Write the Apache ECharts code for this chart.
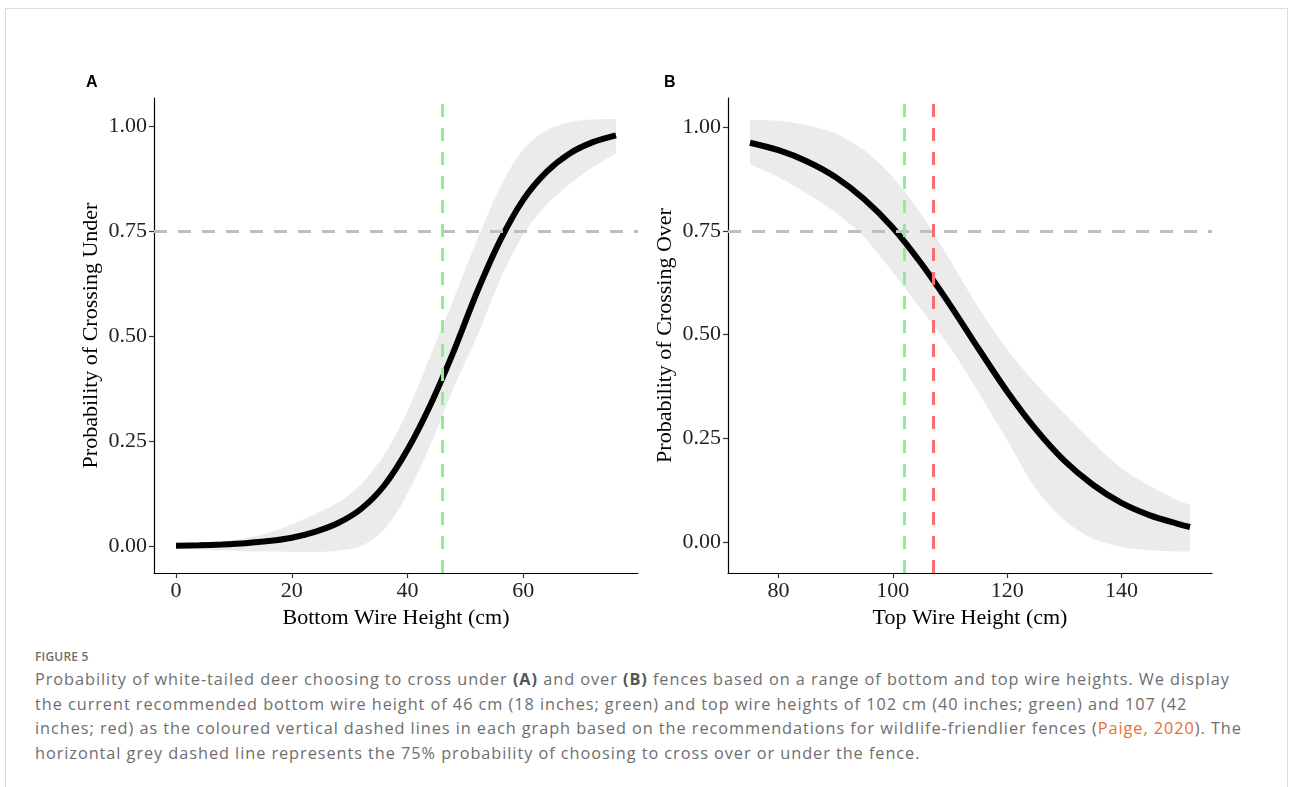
<!DOCTYPE html>
<html>
<head>
<meta charset="utf-8">
<script src="https://cdn.jsdelivr.net/npm/echarts@6/dist/echarts.min.js"></script>
<style>
  body { margin: 0; background: #fff; overflow: hidden; }
  #frame { position: absolute; left: 5px; top: 8px; width: 1281px; height: 800px; border: 1px solid #dcdcdc; }
  #chart { position: absolute; left: 0; top: 0; width: 1292px; height: 640px; }
  #caption { position: absolute; left: 35px; top: 648px; font-family: "Open Sans", sans-serif; color: #6e6e6e; white-space: nowrap; }
  #caption .fig { font-size: 12px; font-weight: 600; letter-spacing: 0.2px; line-height: 18px; }
  #caption .txt { font-size: 16.3px; line-height: 24.5px; letter-spacing: 0.95px; margin-top: 1px; }
  #caption b { color: #555; }
  #caption .ref { color: #e8702a; }
</style>
</head>
<body>
<div id="frame"></div>
<div id="chart"></div>
<div id="caption">
  <div class="fig">FIGURE 5</div>
  <div class="txt">
    Probability of white-tailed deer choosing to cross under <b>(A)</b> and over <b>(B)</b> fences based on a range of bottom and top wire heights. We display<br>
    the current recommended bottom wire height of 46 cm (18 inches; green) and top wire heights of 102 cm (40 inches; green) and 107 (42<br>
    inches; red) as the coloured vertical dashed lines in each graph based on the recommendations for wildlife-friendlier fences (<span class="ref">Paige, 2020</span>). The<br>
    horizontal grey dashed line represents the 75% probability of choosing to cross over or under the fence.
  </div>
</div>
<script>
// panel A: bottom wire height (cm)
const bottomHeight = [0, 4, 8, 12, 16, 20, 24, 28, 32, 36, 40, 44, 48, 52, 56, 60, 64, 68, 72, 76];
const underProb = [0.001, 0.002, 0.004, 0.007, 0.012, 0.020, 0.034, 0.055, 0.089, 0.145, 0.230, 0.338, 0.465, 0.605, 0.728, 0.825, 0.891, 0.935, 0.962, 0.978];
const underLow = [-0.005, -0.008, -0.010, -0.012, -0.013, -0.014, -0.014, -0.011, 0.000, 0.040, 0.125, 0.243, 0.378, 0.500, 0.635, 0.742, 0.812, 0.862, 0.902, 0.935];
const underHigh = [0.005, 0.008, 0.012, 0.019, 0.032, 0.052, 0.076, 0.103, 0.148, 0.218, 0.322, 0.455, 0.590, 0.728, 0.855, 0.945, 0.990, 1.010, 1.016, 1.017];

// panel B: top wire height (cm)
const topHeight = [75, 80, 85, 90, 95, 100, 105, 110, 115, 120, 125, 130, 135, 140, 145, 150, 152];
const overProb = [0.963, 0.945, 0.918, 0.880, 0.827, 0.758, 0.671, 0.572, 0.466, 0.363, 0.272, 0.196, 0.138, 0.094, 0.064, 0.043, 0.036];
const overLow = [0.912, 0.880, 0.840, 0.795, 0.735, 0.650, 0.560, 0.470, 0.360, 0.245, 0.128, 0.052, 0.008, -0.012, -0.020, -0.023, -0.023];
const overHigh = [1.018, 1.016, 1.005, 0.985, 0.945, 0.880, 0.790, 0.680, 0.565, 0.465, 0.382, 0.310, 0.240, 0.178, 0.135, 0.100, 0.089];

const ticksA = [0, 20, 40, 60];
const ticksB = [80, 100, 120, 140];
const ticksY = [0, 0.25, 0.5, 0.75, 1];

const refBottom = 46;      // green
const refTopGreen = 102;
const refTopRed = 107;
const threshold = 0.75;

const serif = 'Liberation Serif';

function pairs(xs, ys) { return xs.map((x, i) => [x, ys[i]]); }

function xAxisFor(idx, min, max, ticks, name) {
  return {
    type: 'value', gridIndex: idx, min: min, max: max,
    name: name, nameLocation: 'middle', nameGap: 28,
    nameTextStyle: { fontFamily: serif, fontSize: 22, color: '#000' },
    axisLine: { onZero: false, lineStyle: { color: '#000', width: 1.2 } },
    axisTick: { customValues: ticks, length: 5, lineStyle: { color: '#333', width: 1.2 } },
    axisLabel: { customValues: ticks, margin: 7, fontFamily: serif, fontSize: 22, color: '#222' },
    splitLine: { show: false }
  };
}
function yAxisFor(idx, min, max, name) {
  return {
    type: 'value', gridIndex: idx, min: min, max: max,
    name: name, nameLocation: 'middle', nameGap: 52,
    nameTextStyle: { fontFamily: serif, fontSize: 22, color: '#000' },
    axisLine: { show: true, onZero: false, lineStyle: { color: '#000', width: 1.2 } },
    axisTick: { show: true, customValues: ticksY, length: 5, lineStyle: { color: '#333', width: 1.2 } },
    axisLabel: { customValues: ticksY, margin: 7, fontFamily: serif, fontSize: 22, color: '#222',
      formatter: v => v.toFixed(2) },
    splitLine: { show: false }
  };
}

// confidence ribbon: one smoothed polygon, corners doubled so the ends stay square
function band(idx, xs, lo, hi) {
  return {
    type: 'custom', xAxisIndex: idx, yAxisIndex: idx, silent: true, z: 1,
    data: xs.map((x, i) => [x, lo[i], hi[i]]),
    encode: { x: 0, y: [1, 2] },
    renderItem: function (params, api) {
      if (params.dataIndex !== 0) return;
      const top = xs.map((x, i) => api.coord([x, hi[i]]));
      const bot = xs.map((x, i) => api.coord([x, lo[i]])).reverse();
      const pts = [top[0]].concat(top, [top[top.length - 1]], [bot[0]], bot, [bot[bot.length - 1]]);
      return { type: 'polygon', shape: { points: pts, smooth: 0.3 }, style: { fill: '#ebebeb' } };
    }
  };
}
function curve(idx, xs, ys) {
  return { type: 'line', xAxisIndex: idx, yAxisIndex: idx, data: pairs(xs, ys), smooth: 0.3,
    symbol: 'none', lineStyle: { color: '#000', width: 6 }, silent: true, z: 3 };
}
function refLines(idx, verticals) {
  const dash = [13, 11];
  const lines = [{ yAxis: threshold, lineStyle: { color: '#bebebe', width: 3, type: dash } }];
  verticals.forEach(v => lines.push({ xAxis: v[0], lineStyle: { color: v[1], width: 3, type: dash } }));
  return { type: 'line', xAxisIndex: idx, yAxisIndex: idx, data: [], z: 5,
    markLine: { silent: true, symbol: 'none', label: { show: false }, data: lines } };
}

const chart = echarts.init(document.getElementById('chart'));
chart.setOption({
  animation: false,
  backgroundColor: 'transparent',
  grid: [
    { left: 154, top: 98, width: 484, height: 475 },
    { left: 728, top: 98, width: 484, height: 475 }
  ],
  xAxis: [
    xAxisFor(0, -3.8, 79.8, ticksA, 'Bottom Wire Height (cm)'),
    xAxisFor(1, 71.15, 155.85, ticksB, 'Top Wire Height (cm)')
  ],
  yAxis: [
    yAxisFor(0, -0.064, 1.067, 'Probability of Crossing Under'),
    yAxisFor(1, -0.075, 1.071, 'Probability of Crossing Over')
  ],
  graphic: [
    { type: 'text', left: 86, top: 75, style: { text: 'A', font: 'bold 16px "Liberation Sans"', fill: '#000' } },
    { type: 'text', left: 664, top: 75, style: { text: 'B', font: 'bold 16px "Liberation Sans"', fill: '#000' } }
  ],
  series: [
    band(0, bottomHeight, underLow, underHigh),
    curve(0, bottomHeight, underProb),
    refLines(0, [[refBottom, '#90ee90']]),
    band(1, topHeight, overLow, overHigh),
    curve(1, topHeight, overProb),
    refLines(1, [[refTopGreen, '#90ee90'], [refTopRed, '#ff6a6a']])
  ]
});
</script>
</body>
</html>
